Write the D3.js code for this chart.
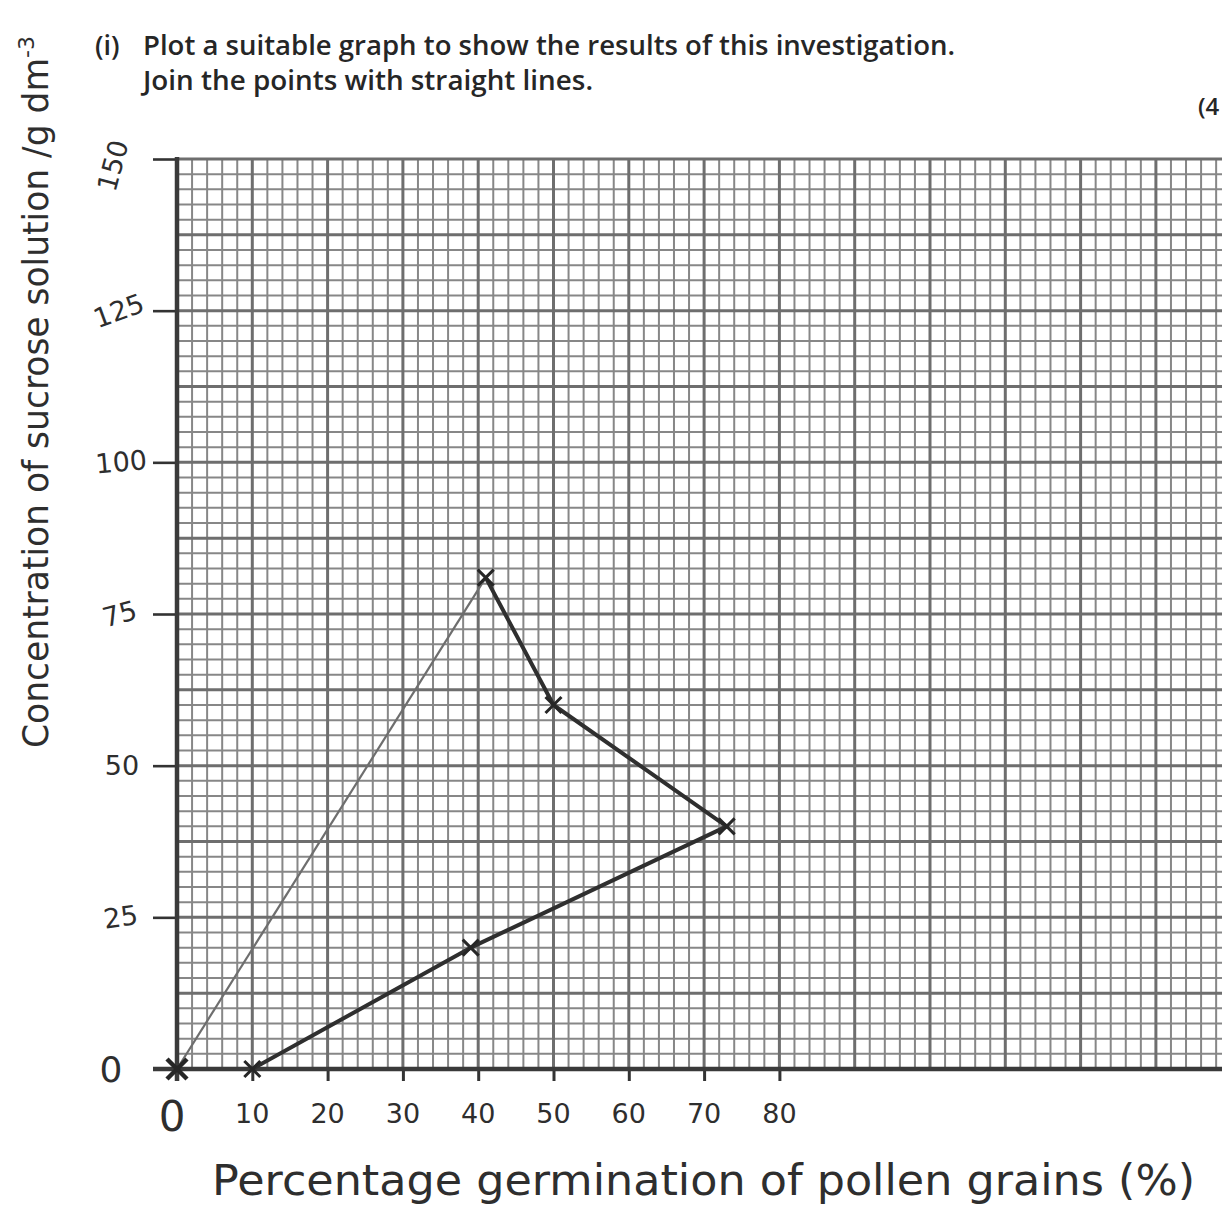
<!DOCTYPE html>
<html>
<head>
<meta charset="utf-8">
<script src="https://cdn.jsdelivr.net/npm/d3@7"></script>
<style>
  body { margin: 0; background: #fff; }
  svg { display: block; }
  .hand { font-family: "DejaVu Sans", sans-serif; fill: #2e2e2e; }
  .print { font-family: "Open Sans", sans-serif; fill: #262626; font-weight: 600; }
</style>
</head>
<body>
<svg id="chart" width="1222" height="1220"></svg>
<script>
// germination % (x) and sucrose concentration (y), in the order the pen joined them
const germination = [0, 41, 50, 73, 39, 10]
const concentration = [0, 81, 60, 40, 20, 0]

const xTickValues = [0, 10, 20, 30, 40, 50, 60, 70, 80]
const yTickValues = [0, 25, 50, 75, 100, 125, 150]

const titleLines = [
    'Plot a suitable graph to show the results of this investigation.',
    'Join the points with straight lines.'
]
const xLabel = 'Percentage germination of pollen grains (%)'
const yLabel = 'Concentration of sucrose solution /g dm'

const svg = d3.select('#chart')
const W = 1222, H = 1220

// graph paper: 10 % per big square across, 12.5 g dm-3 per big square up
const x = d3.scaleLinear().domain([0, 140]).range([177, 177 + 140 * 7.53])
const y = d3.scaleLinear().domain([0, 150]).range([1069, 159])

const gGrid = svg.append('g')

const minorX = d3.range(2, 141, 2).filter(v => v % 10 !== 0)
const majorX = d3.range(10, 141, 10)
const minorY = d3.range(2.5, 150.1, 2.5).filter(v => v % 12.5 !== 0)
const majorY = d3.range(12.5, 150.1, 12.5)

gGrid.selectAll('line.minor-x')
    .data(minorX)
    .join('line')
    .attr('x1', d => x(d)).attr('x2', d => x(d))
    .attr('y1', y(150)).attr('y2', y(0))
    .attr('stroke', '#878787').attr('stroke-width', 2)

gGrid.selectAll('line.minor-y')
    .data(minorY)
    .join('line')
    .attr('x1', x(0)).attr('x2', W)
    .attr('y1', d => y(d)).attr('y2', d => y(d))
    .attr('stroke', '#878787').attr('stroke-width', 2)

gGrid.selectAll('line.major-x')
    .data(majorX)
    .join('line')
    .attr('x1', d => x(d)).attr('x2', d => x(d))
    .attr('y1', y(150)).attr('y2', y(0))
    .attr('stroke', '#6e6e6e').attr('stroke-width', 3)

gGrid.selectAll('line.major-y')
    .data(majorY)
    .join('line')
    .attr('x1', x(0)).attr('x2', W)
    .attr('y1', d => y(d)).attr('y2', d => y(d))
    .attr('stroke', '#6e6e6e').attr('stroke-width', 3)

// Axes, drawn by hand over the paper
const yAxis = d3.axisLeft(y).tickValues(yTickValues).tickSize(24).tickFormat('')
const xAxis = d3.axisBottom(x).tickValues(xTickValues.slice(1)).tickSize(12).tickFormat('')

const gy = svg.append('g').attr('transform', `translate(${x(0)},0)`).call(yAxis)
gy.select('.domain').remove()
gy.selectAll('line').attr('stroke', '#333').attr('stroke-width', 2.6)

const gx = svg.append('g').attr('transform', `translate(0,${y(0)})`).call(xAxis)
gx.select('.domain').remove()
gx.selectAll('line').attr('stroke', '#333').attr('stroke-width', 3)

svg.append('line')
    .attr('x1', x(0)).attr('x2', x(0))
    .attr('y1', y(150) - 2).attr('y2', y(0) + 12)
    .attr('stroke', '#3a3a3a').attr('stroke-width', 4.5)
svg.append('line')
    .attr('x1', x(0) - 24).attr('x2', W)
    .attr('y1', y(0)).attr('y2', y(0))
    .attr('stroke', '#3a3a3a').attr('stroke-width', 4.5)

// tick labels (handwritten, a bit wonky)
const yTilt = [0, -8, 0, -15, -5, -20, -75]
svg.append('g').selectAll('text')
    .data(yTickValues)
    .join('text')
    .attr('class', 'hand')
    .attr('text-anchor', 'middle')
    .attr('font-size', d => d === 0 ? 36 : 27)
    .attr('transform', (d, i) => `translate(${d === 0 ? 111 : 122},${y(d) + (d === 0 ? 13 : 9)}) rotate(${yTilt[i]})`)
    .text(d => d)

svg.append('g').selectAll('text')
    .data(xTickValues)
    .join('text')
    .attr('class', 'hand')
    .attr('text-anchor', 'middle')
    .attr('font-size', d => d === 0 ? 42 : 27)
    .attr('x', d => d === 0 ? x(d) - 5 : x(d))
    .attr('y', d => d === 0 ? 1131 : 1123)
    .text(d => d)

// the joined points
const pts = germination.map((g, i) => [x(g), y(concentration[i])])
const line = d3.line()

svg.append('path')
    .attr('d', line(pts.slice(0, 2)))
    .attr('fill', 'none')
    .attr('stroke', '#6e6e6e')
    .attr('stroke-width', 2.2)

svg.append('path')
    .attr('d', line(pts.slice(1)))
    .attr('fill', 'none')
    .attr('stroke', '#2f2f2f')
    .attr('stroke-width', 4)
    .attr('stroke-linejoin', 'round')

svg.append('g').selectAll('path')
    .data(pts)
    .join('path')
    .attr('d', ([px, py], i) => {
        const s = i === 0 ? 10 : 8
        return `M${px - s},${py - s}L${px + s},${py + s}M${px - s},${py + s}L${px + s},${py - s}`
    })
    .attr('stroke', '#262626')
    .attr('stroke-width', (d, i) => i === 0 ? 4.5 : 3)
    .attr('fill', 'none')

// printed question text
const gTitle = svg.append('g').attr('class', 'print').attr('font-size', 27)
gTitle.append('text').attr('x', 95).attr('y', 55).text('(i)')
gTitle.selectAll('text.line')
    .data(titleLines)
    .join('text')
    .attr('x', 143)
    .attr('y', (d, i) => 55 + i * 35)
    .attr('textLength', (d, i) => i === 0 ? 812 : 450)
    .attr('lengthAdjust', 'spacingAndGlyphs')
    .text(d => d)
gTitle.append('text').attr('x', 1198).attr('y', 115).attr('font-size', 24).text('(4')

// handwritten axis titles
svg.append('text')
    .attr('class', 'hand')
    .attr('x', 212).attr('y', 1195)
    .attr('font-size', 42)
    .attr('textLength', 983)
    .attr('lengthAdjust', 'spacingAndGlyphs')
    .text(xLabel)

const yt = svg.append('text')
    .attr('class', 'hand')
    .attr('transform', 'translate(48,748) rotate(-90)')
    .attr('font-size', 36)
yt.append('tspan')
    .attr('textLength', 690)
    .attr('lengthAdjust', 'spacingAndGlyphs')
    .text(yLabel)
yt.append('tspan')
    .attr('dy', -14)
    .attr('font-size', 22)
    .text('-3')
</script>
</body>
</html>
